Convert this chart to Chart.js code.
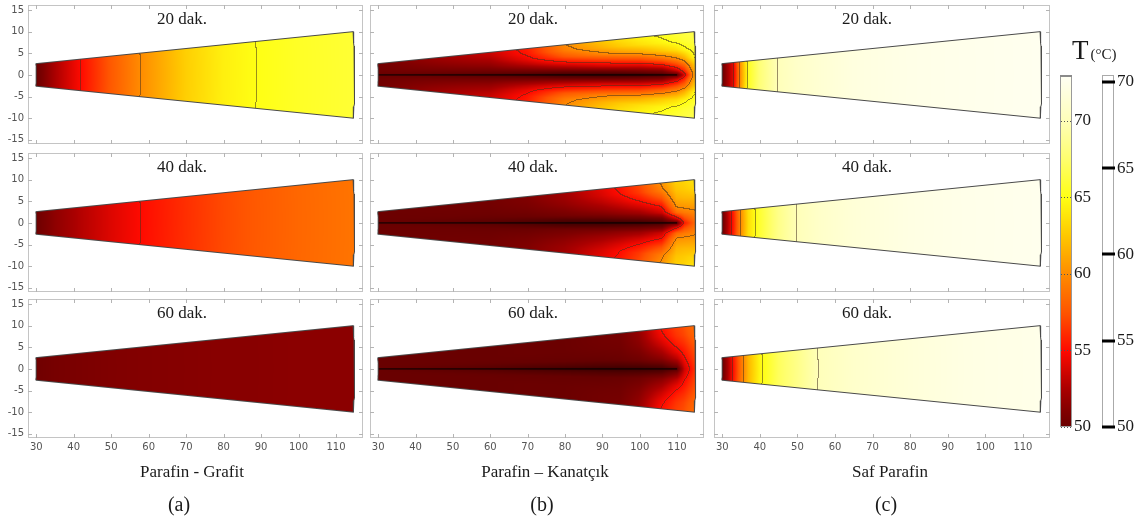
<!DOCTYPE html>
<html>
<head>
<meta charset="utf-8">
<script src="https://cdn.jsdelivr.net/npm/chart.js@4.4.1/dist/chart.umd.min.js"></script>
<style>
  html, body { margin: 0; padding: 0; background: #fff; }
  #wrap { position: relative; width: 1142px; height: 522px; overflow: hidden; }
  canvas { position: absolute; }
  .txt { position: absolute; transform: translate(-50%, -50%); white-space: nowrap;
         font-family: "Liberation Serif", "Times New Roman", serif; color: #1a1a1a; }
</style>
</head>
<body>
<div id="wrap"></div>
<script>
// ---- labels / ticks
const timeLabels = ['20 dak.', '40 dak.', '60 dak.'];
const caseLabels = ['Parafin - Grafit', 'Parafin – Kanatçık', 'Saf Parafin'];
const caseTags = ['(a)', '(b)', '(c)'];
const xTickValues = [30, 40, 50, 60, 70, 80, 90, 100, 110];
const yTickValues = [-15, -10, -5, 0, 5, 10, 15];
const colorbarTicks = [50, 55, 60, 65, 70];
const contourTicks = [50, 55, 60, 65, 70];
const contourLevels = [55, 60, 65, 70];

// ---- geometry of the sector (r in mm, half angle in degrees)
const rInner = 30, rOuter = 115, halfAngle = 5;
const finX = [30, 110];

// ---- (a) Parafin - Grafit : T (°C) along r
const grafitR  = [30, 35, 42, 50, 58, 70, 80, 89, 100, 115];
const grafit20 = [50.0, 52.5, 55.0, 57.7, 60.0, 62.8, 64.3, 65.0, 65.5, 65.9];
const grafit40 = [50.2, 51.5, 52.8, 54.0, 55.0, 56.2, 57.1, 57.7, 58.3, 58.9];
const grafit60 = [50.3, 50.6, 50.8, 51.0, 51.1, 51.2, 51.3, 51.3, 51.4, 51.4];

// ---- (c) Saf Parafin : T (°C) along r
const safR  = [30, 31.5, 33, 35, 37, 40, 45, 50, 56, 65, 80, 95, 115];
const saf20 = [50, 52.3, 54.3, 60.5, 65.4, 67.8, 70.05, 70.8, 71.3, 71.9, 72.3, 72.5, 72.7];
const saf40 = [50, 52.8, 55.6, 60.0, 63.5, 65.8, 68.4, 70.0, 70.8, 71.5, 72.1, 72.4, 72.6];
const saf60 = [50, 52.5, 55.2, 58.8, 61.8, 64.6, 67.0, 68.4, 70.1, 70.9, 71.6, 72.1, 72.4];

// ---- (b) Parafin – Kanatçık : T (°C) on r x s grid (s = |angle| / half angle)
const finR = [30, 60, 70, 80, 90, 95, 100, 106, 110, 112, 115];
const finS = [0, 0.1, 0.25, 0.4, 0.6, 0.8, 1];
const fin20 = [
  [50.0, 50.1, 50.2, 50.3, 50.3, 50.3, 50.4],
  [49.3, 49.9, 50.8, 51.5, 52.3, 53.0, 53.5],
  [49.0, 49.9, 51.5, 53.0, 54.5, 55.3, 55.6],
  [48.7, 49.8, 52.5, 54.8, 57.5, 59.2, 59.9],
  [48.5, 50.0, 53.5, 56.0, 59.5, 61.5, 62.5],
  [48.5, 50.2, 53.8, 56.5, 60.3, 62.6, 63.6],
  [48.5, 50.5, 54.0, 57.0, 61.0, 63.5, 64.5],
  [48.8, 51.0, 55.0, 58.5, 62.5, 64.5, 65.3],
  [49.5, 53.5, 57.0, 60.0, 63.5, 65.3, 66.0],
  [54.0, 56.0, 58.5, 61.5, 64.5, 65.8, 66.3],
  [61.5, 62.0, 63.0, 65.0, 65.8, 66.3, 66.6]
];
const fin40 = [
  [50.0, 50.0, 50.1, 50.1, 50.1, 50.1, 50.1],
  [49.3, 49.7, 50.0, 50.2, 50.3, 50.4, 50.4],
  [49.0, 49.5, 50.1, 50.4, 50.7, 50.9, 51.0],
  [48.7, 49.3, 50.5, 51.0, 51.6, 52.0, 52.2],
  [48.5, 49.4, 51.0, 52.0, 53.0, 53.8, 54.2],
  [48.5, 49.6, 51.5, 52.7, 54.0, 55.0, 55.3],
  [48.5, 49.8, 52.0, 53.5, 55.2, 56.5, 57.0],
  [48.8, 50.3, 53.5, 55.0, 57.3, 59.3, 60.1],
  [49.5, 54.0, 58.5, 60.3, 61.5, 62.3, 62.8],
  [55.5, 57.0, 59.2, 60.5, 61.8, 62.6, 63.0],
  [58.5, 59.0, 59.8, 60.8, 62.0, 63.2, 63.8]
];
const fin60 = [
  [50.0, 50.0, 50.0, 50.0, 50.0, 50.0, 50.0],
  [49.3, 49.6, 49.9, 50.0, 50.0, 50.0, 50.0],
  [49.0, 49.4, 49.9, 50.0, 50.1, 50.1, 50.1],
  [48.7, 49.3, 49.9, 50.0, 50.1, 50.1, 50.1],
  [48.5, 49.2, 49.9, 50.1, 50.3, 50.4, 50.4],
  [48.5, 49.2, 50.0, 50.2, 50.4, 50.5, 50.6],
  [48.5, 49.3, 50.3, 50.7, 51.2, 51.5, 51.7],
  [48.7, 49.6, 51.3, 52.3, 53.5, 54.5, 55.0],
  [49.3, 51.0, 53.0, 54.3, 55.5, 56.3, 56.7],
  [53.5, 54.0, 54.8, 55.4, 56.2, 56.9, 57.2],
  [56.5, 56.7, 57.0, 57.3, 57.8, 58.3, 58.6]
];

// ---- colour map (style)
const cmapT   = [47.5, 49, 50, 51, 52.5, 55, 57.5, 60, 62.5, 65, 67.5, 70, 73];
const cmapRGB = [[30,0,0],[75,0,0],[105,0,0],[128,0,0],[170,0,0],[255,10,0],[255,85,0],
                 [255,140,0],[255,200,0],[255,255,20],[255,255,110],[255,255,185],[255,255,245]];

// ---- layout (style)
const colLeft = [28, 370, 714], colWidth = [335, 334, 336];
const rowTop = [5, 153, 299], rowHeight = 139;
const titleX = [182, 533, 867];
const captionX = [192, 545, 890], tagX = [179, 542, 886];
const M = 30;
const serif = '"Liberation Serif", "Times New Roman", serif';

const wrap = document.getElementById('wrap');

function locate(xs, x){
  const n = xs.length - 1;
  if (x <= xs[0]) return [0, 0];
  if (x >= xs[n]) return [n - 1, 1];
  let i = 0;
  while (x > xs[i + 1]) i++;
  return [i, (x - xs[i]) / (xs[i + 1] - xs[i])];
}
function interp(xs, ys, x){
  const [i, u] = locate(xs, x);
  return ys[i] + u * (ys[i + 1] - ys[i]);
}
function bilinear(grid, r, s){
  const [i, u] = locate(finR, r), [j, v] = locate(finS, s);
  const a = grid[i][j], b = grid[i + 1][j], c = grid[i][j + 1], d = grid[i + 1][j + 1];
  return (a * (1 - u) + b * u) * (1 - v) + (c * (1 - u) + d * u) * v;
}
function colour(t){
  const [i, u] = locate(cmapT, t);
  const c0 = cmapRGB[i], c1 = cmapRGB[i + 1];
  return [c0[0] + u * (c1[0] - c0[0]), c0[1] + u * (c1[1] - c0[1]), c0[2] + u * (c1[2] - c0[2])];
}
function levelOf(t){
  let k = 0;
  for (const l of contourLevels) if (t >= l) k++;
  return k;
}

function sectorOutline(){
  const pts = [];
  for (let k = 0; k <= 8; k++){
    const a = (-halfAngle + 2 * halfAngle * k / 8) * Math.PI / 180;
    pts.push({x: rInner * Math.cos(a), y: rInner * Math.sin(a)});
  }
  for (let k = 0; k <= 30; k++){
    const a = (halfAngle - 2 * halfAngle * k / 30) * Math.PI / 180;
    pts.push({x: rOuter * Math.cos(a), y: rOuter * Math.sin(a)});
  }
  pts.push(pts[0]);
  return pts;
}

function makeFieldPlugin(field){
  return {
    id: 'field',
    beforeDatasetsDraw(chart){
      const a = chart.chartArea, xs = chart.scales.x, ys = chart.scales.y;
      const w = Math.round(a.right - a.left), h = Math.round(a.bottom - a.top);
      const T = new Float32Array(w * h).fill(NaN);
      for (let j = 0; j < h; j++){
        const y = ys.getValueForPixel(a.top + j + 0.5);
        for (let i = 0; i < w; i++){
          const x = xs.getValueForPixel(a.left + i + 0.5);
          const r = Math.hypot(x, y), th = Math.abs(Math.atan2(y, x) * 180 / Math.PI);
          if (r < rInner || r > rOuter || th > halfAngle) continue;
          T[j * w + i] = field(r, th / halfAngle);
        }
      }
      const img = new ImageData(w, h);
      for (let j = 0; j < h; j++){
        for (let i = 0; i < w; i++){
          const k = j * w + i, t = T[k];
          if (isNaN(t)) continue;
          let c = colour(t);
          const L = levelOf(t);
          let edge = false;
          if (i + 1 < w && !isNaN(T[k + 1]) && levelOf(T[k + 1]) !== L) edge = true;
          if (j + 1 < h && !isNaN(T[k + w]) && levelOf(T[k + w]) !== L) edge = true;
          if (edge){
            const f = 0.55;
            c = [c[0] * (1 - f) + 70 * f, c[1] * (1 - f) + 50 * f, c[2] * (1 - f) + 30 * f];
          }
          img.data[k * 4] = c[0]; img.data[k * 4 + 1] = c[1]; img.data[k * 4 + 2] = c[2]; img.data[k * 4 + 3] = 255;
        }
      }
      const off = document.createElement('canvas');
      off.width = w; off.height = h;
      off.getContext('2d').putImageData(img, 0, 0);
      chart.ctx.drawImage(off, a.left, a.top);
    }
  };
}

function makeFramePlugin(row, col){
  return {
    id: 'frame',
    afterDraw(chart){
      const ctx = chart.ctx, a = chart.chartArea, xs = chart.scales.x, ys = chart.scales.y;
      ctx.save();
      ctx.strokeStyle = '#c4c4c4';
      ctx.lineWidth = 1;
      ctx.strokeRect(a.left + 0.5, a.top + 0.5, a.right - a.left - 1, a.bottom - a.top - 1);
      ctx.strokeStyle = '#b4b4b4';
      ctx.beginPath();
      xs.ticks.forEach(t => {
        const px = Math.round(xs.getPixelForValue(t.value)) + 0.5;
        ctx.moveTo(px, a.top); ctx.lineTo(px, a.top + 4);
        ctx.moveTo(px, a.bottom); ctx.lineTo(px, a.bottom - 4);
      });
      ys.ticks.forEach(t => {
        const py = Math.round(ys.getPixelForValue(t.value)) + 0.5;
        ctx.moveTo(a.left, py); ctx.lineTo(a.left + 4, py);
        ctx.moveTo(a.right, py); ctx.lineTo(a.right - 4, py);
      });
      ctx.stroke();
      ctx.fillStyle = '#555';
      ctx.font = '10px "DejaVu Sans", sans-serif';
      ctx.textBaseline = 'middle';
      if (col === 0){
        ctx.textAlign = 'right';
        ys.ticks.forEach(t => ctx.fillText(String(t.value), a.left - 4, ys.getPixelForValue(t.value)));
      }
      if (row === 2){
        ctx.textAlign = 'center';
        xs.ticks.forEach(t => ctx.fillText(String(t.value), xs.getPixelForValue(t.value), a.bottom + 9));
      }
      ctx.restore();
    }
  };
}

const fields = [
  [(r) => interp(grafitR, grafit20, r), (r, s) => bilinear(fin20, r, s), (r) => interp(safR, saf20, r)],
  [(r) => interp(grafitR, grafit40, r), (r, s) => bilinear(fin40, r, s), (r) => interp(safR, saf40, r)],
  [(r) => interp(grafitR, grafit60, r), (r, s) => bilinear(fin60, r, s), (r) => interp(safR, saf60, r)]
];

function addText(txt, x, y, size){
  const d = document.createElement('div');
  d.className = 'txt';
  d.textContent = txt;
  d.style.left = x + 'px'; d.style.top = y + 'px'; d.style.fontSize = size + 'px';
  wrap.appendChild(d);
}

function makePanel(row, col){
  const cv = document.createElement('canvas');
  const w = colWidth[col] + 2 * M, h = rowHeight + 2 * M;
  cv.width = w; cv.height = h;
  cv.style.width = w + 'px'; cv.style.height = h + 'px';
  cv.style.left = (colLeft[col] - M) + 'px';
  cv.style.top = (rowTop[row] - M) + 'px';
  wrap.appendChild(cv);

  const datasets = [{
    data: sectorOutline(), showLine: true, borderColor: '#4a4a4a', borderWidth: 1,
    pointRadius: 0, tension: 0, fill: false
  }];
  if (col === 1){
    datasets.push({
      data: finX.map(x => ({x: x, y: 0})), showLine: true, borderColor: '#000', borderWidth: 1,
      pointRadius: 0, fill: false
    });
  }

  new Chart(cv, {
    type: 'scatter',
    data: { datasets: datasets },
    options: {
      responsive: false, animation: false, devicePixelRatio: 1, events: [],
      layout: { padding: M },
      plugins: { legend: { display: false }, tooltip: { enabled: false } },
      scales: {
        x: { type: 'linear', display: false, min: 27.8, max: 117.2,
             afterBuildTicks: s => { s.ticks = xTickValues.map(v => ({value: v})); } },
        y: { type: 'linear', display: false, min: -16, max: 16.2,
             afterBuildTicks: s => { s.ticks = yTickValues.map(v => ({value: v})); } }
      }
    },
    plugins: [makeFieldPlugin(fields[row][col]), makeFramePlugin(row, col)]
  });

  addText(timeLabels[row], titleX[col], rowTop[row] + 13.5, 17);
}

for (let row = 0; row < 3; row++){
  for (let col = 0; col < 3; col++) makePanel(row, col);
}
for (let col = 0; col < 3; col++){
  addText(caseLabels[col], captionX[col], 472, 17);
  addText(caseTags[col], tagX[col], 504, 20);
}

// ---- colour bar + contour legend
const cbPlugin = {
  id: 'colorbar',
  afterDraw(chart){
    const ctx = chart.ctx, a = chart.chartArea, y1 = chart.scales.y, y2 = chart.scales.y2;
    const bw = 12;
    ctx.save();
    for (let py = Math.round(a.top); py < Math.round(a.bottom); py++){
      const c = colour(y1.getValueForPixel(py + 0.5));
      ctx.fillStyle = 'rgb(' + c.map(Math.round).join(',') + ')';
      ctx.fillRect(a.left, py, bw, 1);
    }
    ctx.strokeStyle = '#9a9a9a';
    ctx.lineWidth = 1;
    ctx.strokeRect(a.left + 0.5, a.top + 0.5, bw - 1, a.bottom - a.top - 1);
    ctx.fillStyle = '#8a8a8a';
    ctx.fillRect(a.left, a.top, bw, 2);

    ctx.font = '17px ' + serif;
    ctx.textBaseline = 'middle';
    ctx.textAlign = 'left';
    ctx.setLineDash([1, 2]);
    ctx.strokeStyle = '#555';
    y1.ticks.forEach(t => {
      const py = Math.round(y1.getPixelForValue(t.value)) + 0.5;
      ctx.beginPath(); ctx.moveTo(a.left + 1, py); ctx.lineTo(a.left + bw + 1, py); ctx.stroke();
      ctx.fillStyle = '#1a1a1a';
      ctx.fillText(String(t.value), a.left + bw + 2, y1.getPixelForValue(t.value));
    });
    ctx.setLineDash([]);

    const x2 = a.right - bw;
    ctx.fillStyle = '#fff';
    ctx.fillRect(x2, a.top, bw, a.bottom - a.top);
    ctx.strokeStyle = '#aaa';
    ctx.strokeRect(x2 + 0.5, a.top + 0.5, bw - 1, a.bottom - a.top - 1);
    y2.ticks.forEach(t => {
      const py = y2.getPixelForValue(t.value);
      ctx.fillStyle = '#000';
      ctx.fillRect(x2, Math.round(py) - 1.5, bw + 1, 3);
      ctx.fillStyle = '#1a1a1a';
      ctx.fillText(String(t.value), a.right + 3, py);
    });
    ctx.restore();
  }
};

const cb = document.createElement('canvas');
cb.width = 102; cb.height = 420;
cb.style.width = '102px'; cb.style.height = '420px';
cb.style.left = '1040px'; cb.style.top = '30px';
wrap.appendChild(cb);
new Chart(cb, {
  type: 'scatter',
  data: { datasets: [{ data: [], yAxisID: 'y' }, { data: [], yAxisID: 'y2' }] },
  options: {
    responsive: false, animation: false, devicePixelRatio: 1, events: [],
    layout: { padding: { left: 20, right: 28, top: 45, bottom: 23 } },
    plugins: { legend: { display: false }, tooltip: { enabled: false } },
    scales: {
      x: { type: 'linear', display: false, min: 0, max: 1 },
      y: { type: 'linear', display: false, min: 50, max: 73,
           afterBuildTicks: s => { s.ticks = colorbarTicks.map(v => ({value: v})); } },
      y2: { type: 'linear', display: false, min: 50, max: 70.4,
            afterBuildTicks: s => { s.ticks = contourTicks.map(v => ({value: v})); } }
    }
  },
  plugins: [cbPlugin]
});

const head = document.createElement('div');
head.style.cssText = 'position:absolute;left:1072px;top:35px;line-height:30px;font-size:27px;color:#1a1a1a;white-space:nowrap;font-family:' + serif;
head.innerHTML = 'T<span style="font-size:15px;margin-left:2px">(°C)</span>';
wrap.appendChild(head);
</script>
</body>
</html>
